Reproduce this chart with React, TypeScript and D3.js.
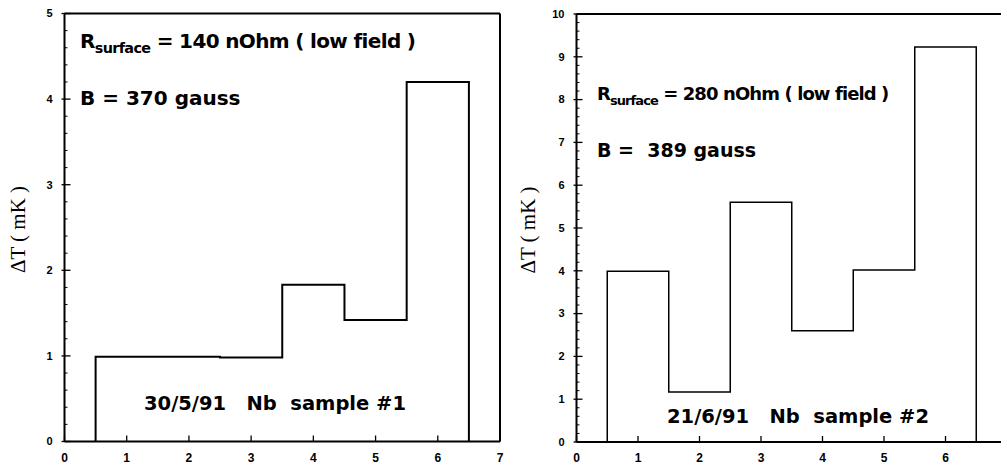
import React from "react";
import * as d3 from "d3";

const binsLeft = [1, 2, 3, 4, 5, 6];
const valuesLeft = [0.99, 0.99, 0.98, 1.83, 1.42, 4.2];
const binsRight = [1, 2, 3, 4, 5, 6];
const valuesRight = [3.99, 1.17, 5.6, 2.6, 4.02, 9.23];
const xTicks = [0, 1, 2, 3, 4, 5, 6, 7];
const yTicksLeft = [0, 1, 2, 3, 4, 5];
const yTicksRight = [0, 1, 2, 3, 4, 5, 6, 7, 8, 9, 10];
const yLabel = "ΔT ( mK )";

type TextSpec = { x: number; y: number; size: number; ls: number };

type PanelProps = {
  bins: number[];
  values: number[];
  yTicks: number[];
  yMax: number;
  xRange: [number, number];
  yRange: [number, number];
  frameRight: number;
  showRightFrame: boolean;
  labelX: number;
  rText: string;
  bText: string;
  sampleText: string;
  r: TextSpec;
  b: TextSpec;
  s: TextSpec;
  lineWidth: number;
};

function Panel(p: PanelProps) {
  const x = d3.scaleLinear().domain([0, 7]).range(p.xRange);
  const y = d3.scaleLinear().domain([0, p.yMax]).range(p.yRange);
  const pts: [number, number][] = [];
  pts.push([p.bins[0] - 0.5, 0]);
  p.bins.forEach((b, i) => {
    pts.push([b - 0.5, p.values[i]]);
    pts.push([b + 0.5, p.values[i]]);
  });
  pts.push([p.bins[p.bins.length - 1] + 0.5, 0]);
  const line = d3
    .line<[number, number]>()
    .x((d) => x(d[0]))
    .y((d) => y(d[1]));
  const x0 = x(0);
  const yb = y(0);
  const yt = y(p.yMax);
  const minor: number[] = [];
  for (let v = 0; v <= p.yMax + 1e-9; v += 0.2) {
    const r = Math.round(v * 10) / 10;
    if (Math.abs(r - Math.round(r)) > 1e-6) minor.push(r);
  }
  const font = "Liberation Sans, Arial, Helvetica, sans-serif";
  const bold = "DejaVu Sans, Verdana, sans-serif";
  return (
    <g>
      {/* frame */}
      <line x1={x0} x2={p.frameRight} y1={yt} y2={yt} stroke="#000" strokeWidth={2} />
      <line x1={x0} x2={p.frameRight} y1={yb} y2={yb} stroke="#000" strokeWidth={2.2} />
      <line x1={x0} x2={x0} y1={yt} y2={yb} stroke="#000" strokeWidth={2} />
      {p.showRightFrame && (
        <line x1={p.frameRight} x2={p.frameRight} y1={yt} y2={yb} stroke="#000" strokeWidth={2} />
      )}
      {/* y ticks */}
      {p.yTicks.map((t) => (
        <g key={"y" + t}>
          <line x1={x0 - 3} x2={x0 + 6} y1={y(t)} y2={y(t)} stroke="#000" strokeWidth={1.3} />
          <text
            x={x0 - 12}
            y={y(t)}
            dy="0.35em"
            textAnchor="end"
            fontFamily={font}
            fontWeight="bold"
            fontSize={11}
          >
            {t}
          </text>
        </g>
      ))}
      {minor.map((t) => (
        <line key={"m" + t} x1={x0} x2={x0 + 3} y1={y(t)} y2={y(t)} stroke="#000" strokeWidth={1} />
      ))}
      {/* x ticks */}
      {xTicks.map((t) =>
        x(t) <= 1001 ? (
          <g key={"x" + t}>
            <line x1={x(t)} x2={x(t)} y1={yb} y2={yb - 6} stroke="#000" strokeWidth={1.3} />
            <text
              x={x(t)}
              y={yb + 20}
              textAnchor="middle"
              fontFamily={font}
              fontWeight="bold"
              fontSize={12}
            >
              {t}
            </text>
          </g>
        ) : null
      )}
      {/* histogram */}
      <path d={line(pts) || ""} fill="none" stroke="#000" strokeWidth={p.lineWidth} />
      {/* y label */}
      <text
        transform={`translate(${p.labelX},${(yt + yb) / 2 + 2}) rotate(-90)`}
        textAnchor="middle"
        dy="0.35em"
        fontFamily="Liberation Serif, Times New Roman, serif"
        fontSize={21}
      >
        {yLabel}
      </text>
      {/* annotations */}
      <text
        x={p.r.x}
        y={p.r.y}
        fontFamily={bold}
        fontWeight="bold"
        fontSize={p.r.size}
        letterSpacing={p.r.ls}
        xmlSpace="preserve"
      >
        R
        <tspan fontSize={p.r.size * 0.72} dy={p.r.size * 0.25}>
          surface
        </tspan>
        <tspan dy={-p.r.size * 0.25}>{" " + p.rText}</tspan>
      </text>
      <text
        x={p.b.x}
        y={p.b.y}
        fontFamily={bold}
        fontWeight="bold"
        fontSize={p.b.size}
        letterSpacing={p.b.ls}
        xmlSpace="preserve"
      >
        {p.bText}
      </text>
      <text
        x={p.s.x}
        y={p.s.y}
        fontFamily={bold}
        fontWeight="bold"
        fontSize={p.s.size}
        letterSpacing={p.s.ls}
        xmlSpace="preserve"
      >
        {p.sampleText}
      </text>
    </g>
  );
}

export default function App() {
  return (
    <svg
      width={1001}
      height={466}
      style={{ position: "absolute", left: 0, top: 0, background: "#fff" }}
    >
      <rect x={0} y={0} width={1001} height={466} fill="#fff" />
      <Panel
        bins={binsLeft}
        values={valuesLeft}
        yTicks={yTicksLeft}
        yMax={5}
        xRange={[64.5, 500]}
        yRange={[441.5, 13.5]}
        frameRight={500}
        showRightFrame={true}
        labelX={18}
        rText="= 140 nOhm ( low field )"
        bText="B = 370 gauss"
        sampleText="30/5/91   Nb  sample #1"
        r={{ x: 80, y: 48, size: 20, ls: -0.65 }}
        b={{ x: 80, y: 105, size: 20, ls: 0 }}
        s={{ x: 144, y: 410, size: 19.5, ls: 0 }}
        lineWidth={2}
      />
      <Panel
        bins={binsRight}
        values={valuesRight}
        yTicks={yTicksRight}
        yMax={10}
        xRange={[576.5, 1007]}
        yRange={[442, 14]}
        frameRight={1001}
        showRightFrame={false}
        labelX={528}
        rText="= 280 nOhm ( low field )"
        bText="B =  389 gauss"
        sampleText="21/6/91   Nb  sample #2"
        r={{ x: 597, y: 100, size: 18, ls: -0.9 }}
        b={{ x: 597, y: 157, size: 19, ls: 0 }}
        s={{ x: 667, y: 423, size: 19.5, ls: 0 }}
        lineWidth={1.5}
      />
    </svg>
  );
}
